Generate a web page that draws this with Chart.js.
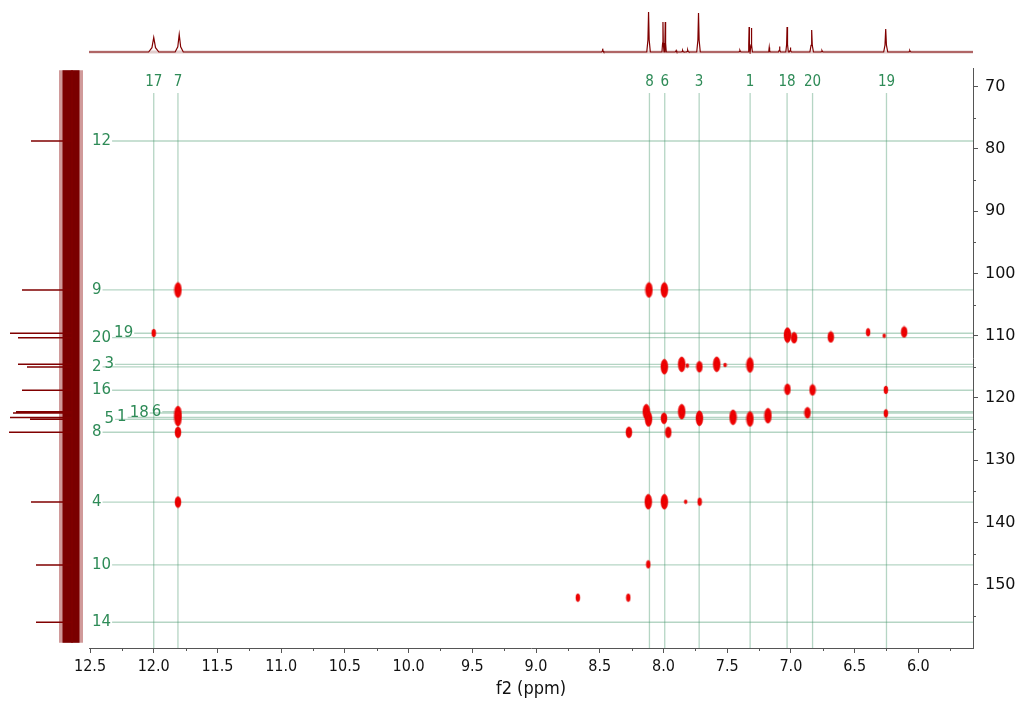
<!DOCTYPE html>
<html lang="en">
<head>
<meta charset="UTF-8">
<title>HMBC</title>
<script src="https://cdn.jsdelivr.net/npm/chart.js"></script>
<style>
    body { margin: 0; background: #fff; }
    #wrap { position: relative; width: 1024px; height: 703px; }
    canvas { position: absolute; left: 0; top: 0; }
</style>
</head>
<body>
<div id="wrap">
    <canvas id="main" width="1024" height="703"></canvas>
    <canvas id="top" width="1024" height="68"></canvas>
    <canvas id="left" width="89" height="703"></canvas>
</div>
<script>
// proton assignments (f2, ppm)
const hLabels = ['17', '7', '8', '6', '3', '1', '18', '20', '19'];
const hShifts = [12.00, 11.81, 8.11, 7.99, 7.72, 7.32, 7.03, 6.83, 6.25];

// carbon assignments (f1, ppm) and the height of each line in the 13C trace
const cLabels = ['12', '9', '19', '20', '3', '2', '16', '6', '18', '1', '5', '8', '4', '10', '14'];
const cShifts = [78.75, 102.66, 109.61, 110.32, 114.59, 115.02, 118.76, 122.20, 122.41, 123.13, 123.42, 125.50, 136.70, 146.80, 156.00];
const cHeights = [41, 50, 62, 54, 54, 45, 50, 56, 59, 62, 42, 63, 41, 36, 36];

// cross peaks: f2, f1, intensity class (0 weak .. 3 strong)
const peakF2 = [11.81, 12.00, 11.81, 11.81, 11.81, 11.81,
    8.114, 7.993, 7.027, 6.975, 6.687, 6.394, 6.268, 6.111,
    7.993, 7.857, 7.813, 7.718, 7.582, 7.517, 7.321,
    7.027, 6.830, 6.255,
    8.135, 8.117, 7.996, 7.857, 7.718, 7.454, 7.321, 7.180, 6.870, 6.255,
    8.271, 7.962,
    8.119, 7.993, 7.826, 7.716,
    8.119, 8.672, 8.276];
const peakF1 = [102.66, 109.57, 122.5, 123.3, 125.5, 136.7,
    102.66, 102.66, 109.9, 110.32, 110.2, 109.45, 110.0, 109.4,
    114.98, 114.6, 114.8, 114.98, 114.59, 114.7, 114.7,
    118.6, 118.7, 118.7,
    122.2, 123.37, 123.26, 122.2, 123.26, 123.1, 123.37, 122.84, 122.36, 122.46,
    125.5, 125.5,
    136.65, 136.65, 136.65, 136.65,
    146.7, 152.05, 152.05];
const peakSize = [3, 1, 3, 3, 2, 2,
    3, 3, 3, 2, 2, 1, 0, 2,
    3, 3, 0, 2, 3, 0, 3,
    2, 2, 1,
    3, 3, 2, 3, 3, 3, 3, 3, 2, 1,
    2, 2,
    3, 3, 0, 1,
    1, 1, 1];

// 1H trace on top: position, height, half width at base
const hPeakPos = [12.00, 11.80, 8.477, 8.117, 8.004, 7.986, 7.90, 7.85, 7.81, 7.725, 7.40, 7.328, 7.310, 7.170, 7.089, 7.030, 7.004, 6.837, 6.756, 6.256, 6.067];
const hPeakHeight = [14.5, 17.5, 3.3, 40, 30, 30, 1.5, 1.5, 2, 39, 1.5, 25, 24, 4.6, 5.6, 25, 4.6, 22, 1.3, 23, 1.3];
const hPeakWidth = [0.040, 0.032, 0.008, 0.014, 0.008, 0.008, 0.010, 0.010, 0.010, 0.014, 0.010, 0.008, 0.008, 0.008, 0.008, 0.010, 0.008, 0.014, 0.010, 0.016, 0.010];

const xTicks = [12.5, 12.0, 11.5, 11.0, 10.5, 10.0, 9.5, 9.0, 8.5, 8.0, 7.5, 7.0, 6.5, 6.0];
const xMinor = [12.25, 11.75, 11.25, 10.75, 10.25, 9.75, 9.25, 8.75, 8.25, 7.75, 7.25, 6.75, 6.25, 5.75];
const yTicks = [70, 80, 90, 100, 110, 120, 130, 140, 150];
const yMinor = [75, 85, 95, 105, 115, 125, 135, 145, 155];

const X_MIN = 5.571, X_MAX = 12.508;
const Y_MIN = 67.03, Y_MAX = 160.13;

const GREEN = '#2e8b57';
const LINE = 'rgba(60, 145, 100, 0.38)';
const DARK_RED = '#800000';
const COND = "'DejaVu Sans Condensed', 'DejaVu Sans', sans-serif";
const SANS = "'DejaVu Sans', sans-serif";

// ellipse sprites for the cross peaks
const spriteCache = {};
function peakSprite(s) {
    if (spriteCache[s]) return spriteCache[s];
    const dims = [[3, 4], [4, 8], [6, 11], [7, 15]][s];
    const c = document.createElement('canvas');
    c.width = dims[0] + 2;
    c.height = dims[1] + 2;
    const g = c.getContext('2d');
    g.beginPath();
    g.ellipse(c.width / 2, c.height / 2, dims[0] / 2, dims[1] / 2, 0, 0, Math.PI * 2);
    g.fillStyle = '#f20000';
    g.fill();
    g.lineWidth = 0.6;
    g.strokeStyle = 'rgba(215, 0, 0, 0.8)';
    g.stroke();
    if (s >= 2) {
        g.beginPath();
        g.ellipse(c.width / 2, c.height / 2, dims[0] / 4, dims[1] / 4, 0, 0, Math.PI * 2);
        g.strokeStyle = 'rgba(190, 0, 0, 0.55)';
        g.stroke();
    }
    spriteCache[s] = c;
    return c;
}

// assignment lines, labels and minor ticks
const assignPlugin = {
    id: 'assign',
    beforeDatasetsDraw(chart) {
        const { ctx, chartArea: a, scales: { x, y } } = chart;
        ctx.save();
        ctx.lineWidth = 1.3;
        ctx.strokeStyle = LINE;
        ctx.fillStyle = GREEN;

        // proton lines
        ctx.font = '15px ' + COND;
        ctx.textAlign = 'center';
        ctx.textBaseline = 'middle';
        hShifts.forEach((v, i) => {
            const px = x.getPixelForValue(v);
            ctx.beginPath();
            ctx.moveTo(px, a.top + 25);
            ctx.lineTo(px, a.bottom);
            ctx.stroke();
            ctx.fillText(hLabels[i], px, a.top + 14);
        });

        // carbon lines, labels pushed right when they crowd each other
        ctx.font = '15px ' + SANS;
        ctx.textAlign = 'left';
        const order = cShifts.map((v, i) => i).sort((p, q) => cShifts[q] - cShifts[p]);
        let prevY = -999, prevEnd = 0;
        order.forEach(i => {
            const py = y.getPixelForValue(cShifts[i]);
            const w = ctx.measureText(cLabels[i]).width;
            let lx = a.left + 3;
            if (Math.abs(py - prevY) < 15) lx = prevEnd + 3;
            ctx.fillText(cLabels[i], lx, py);
            ctx.beginPath();
            ctx.moveTo(lx + w + 1, py);
            ctx.lineTo(a.right, py);
            ctx.stroke();
            prevY = py;
            prevEnd = lx + w;
        });
        ctx.restore();
    },
    afterDraw(chart) {
        const { ctx, chartArea: a, scales: { x, y } } = chart;
        ctx.save();
        ctx.strokeStyle = '#555';
        ctx.lineWidth = 1;
        xMinor.forEach(v => {
            const px = Math.round(x.getPixelForValue(v)) + 0.5;
            ctx.beginPath();
            ctx.moveTo(px, a.bottom);
            ctx.lineTo(px, a.bottom + 3);
            ctx.stroke();
        });
        yMinor.forEach(v => {
            const py = Math.round(y.getPixelForValue(v)) + 0.5;
            ctx.beginPath();
            ctx.moveTo(a.right, py);
            ctx.lineTo(a.right + 3, py);
            ctx.stroke();
        });
        ctx.restore();
    }
};

const peaks = peakF2.map((v, i) => ({ x: v, y: peakF1[i], s: peakSize[i] }));

new Chart(document.getElementById('main'), {
    type: 'scatter',
    data: {
        datasets: [{
            data: peaks,
            pointStyle: ctx => peakSprite(ctx.raw ? ctx.raw.s : 1),
            pointRadius: 3
        }]
    },
    options: {
        responsive: false,
        animation: false,
        layout: { padding: { left: 89, top: 68, right: 0, bottom: 0 } },
        plugins: { legend: { display: false }, tooltip: { enabled: false } },
        scales: {
            x: {
                type: 'linear',
                min: X_MIN,
                max: X_MAX,
                reverse: true,
                afterBuildTicks: s => { s.ticks = xTicks.map(v => ({ value: v })); },
                afterFit: s => { s.height = 55; },
                grid: { drawOnChartArea: false, tickLength: 5, tickColor: '#555' },
                border: { color: '#555' },
                ticks: {
                    padding: 4,
                    color: '#111',
                    font: { family: COND, size: 16 },
                    maxRotation: 0,
                    autoSkip: false,
                    callback: v => v.toFixed(1)
                },
                title: {
                    display: true,
                    text: 'f2 (ppm)',
                    color: '#111',
                    font: { family: COND, size: 18 },
                    padding: { top: 0, bottom: 3 }
                }
            },
            y: {
                type: 'linear',
                position: 'right',
                min: Y_MIN,
                max: Y_MAX,
                reverse: true,
                afterBuildTicks: s => { s.ticks = yTicks.map(v => ({ value: v })); },
                afterFit: s => { s.width = 51; },
                grid: { drawOnChartArea: false, tickLength: 5, tickColor: '#555' },
                border: { color: '#555' },
                ticks: {
                    padding: 7,
                    color: '#111',
                    font: { family: SANS, size: 16 },
                    autoSkip: false
                }
            }
        }
    },
    plugins: [assignPlugin]
});

// 1H trace along the top
const hTrace = [{ x: X_MAX, y: 0 }];
hPeakPos.forEach((p, i) => {
    const h = hPeakHeight[i], w = hPeakWidth[i];
    hTrace.push({ x: p + w, y: 0 }, { x: p + w * 0.35, y: h * 0.3 }, { x: p, y: h },
        { x: p - w * 0.35, y: h * 0.3 }, { x: p - w, y: 0 });
});
hTrace.push({ x: X_MIN, y: 0 });

new Chart(document.getElementById('top'), {
    type: 'scatter',
    data: {
        datasets: [{
            data: hTrace,
            showLine: true,
            pointRadius: 0,
            borderWidth: 1.2,
            borderColor: DARK_RED
        }, {
            data: [{ x: X_MAX, y: 0 }, { x: X_MIN, y: 0 }],
            showLine: true,
            pointRadius: 0,
            borderWidth: 3,
            borderColor: 'rgba(170, 110, 110, 0.35)'
        }]
    },
    options: {
        responsive: false,
        animation: false,
        layout: { padding: { left: 89, right: 51, top: 8, bottom: 14 } },
        plugins: { legend: { display: false }, tooltip: { enabled: false } },
        scales: {
            x: { type: 'linear', display: false, min: X_MIN, max: X_MAX, reverse: true },
            y: { type: 'linear', display: false, min: -2, max: 44 }
        }
    }
});

// 13C trace along the left side
const cOrder = cShifts.map((v, i) => i).sort((p, q) => cShifts[p] - cShifts[q]);
const cTrace = [{ x: 0, y: 67.4 }];
cOrder.forEach(i => {
    cTrace.push({ x: 0, y: cShifts[i] }, { x: cHeights[i], y: cShifts[i] }, { x: 0, y: cShifts[i] });
});
cTrace.push({ x: 0, y: 159.3 });

// first dataset is drawn on top
new Chart(document.getElementById('left'), {
    type: 'scatter',
    data: {
        datasets: [{
            data: cTrace,
            showLine: true,
            pointRadius: 0,
            borderWidth: 1.5,
            borderColor: DARK_RED
        }, {
            // dense noise core
            data: [{ x: 1, y: 67.4 }, { x: 1, y: 159.3 }],
            showLine: true,
            pointRadius: 0,
            borderWidth: 17,
            borderCapStyle: 'butt',
            borderColor: '#7a0000'
        }, {
            // ragged outer edge of the noise
            data: [{ x: 1, y: 67.4 }, { x: 1, y: 159.3 }],
            showLine: true,
            pointRadius: 0,
            borderWidth: 24,
            borderCapStyle: 'butt',
            borderColor: 'rgba(150, 30, 30, 0.45)'
        }]
    },
    options: {
        responsive: false,
        animation: false,
        layout: { padding: { left: 0, right: 0, top: 68, bottom: 55 } },
        plugins: { legend: { display: false }, tooltip: { enabled: false } },
        scales: {
            x: { type: 'linear', display: false, min: -17, max: 72, reverse: true },
            y: { type: 'linear', display: false, min: Y_MIN, max: Y_MAX, reverse: true }
        }
    }
});
</script>
</body>
</html>
